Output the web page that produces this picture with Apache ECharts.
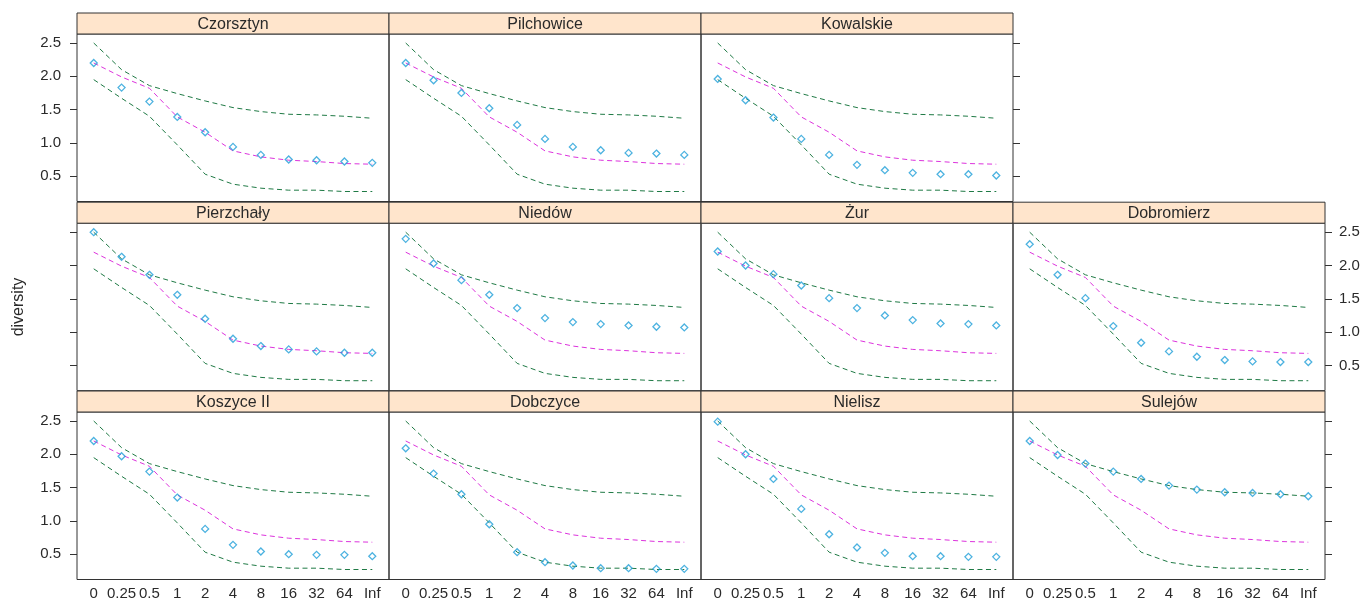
<!DOCTYPE html>
<html>
<head>
<meta charset="utf-8">
<style>
html,body{margin:0;padding:0;background:#fff;}
#chart{width:1363px;height:603px;}
</style>
<script src="https://cdn.jsdelivr.net/npm/echarts@6/dist/echarts.min.js"></script>
</head>
<body>
<div id="chart"></div>
<script>
// ---- data ----
const categories = ['0','0.25','0.5','1','2','4','8','16','32','64','Inf'];
const yTicks = [0.5, 1.0, 1.5, 2.0, 2.5];
const upperEnvelope = [2.50, 2.10, 1.86, 1.74, 1.63, 1.53, 1.47, 1.43, 1.42, 1.40, 1.37];
const meanLine      = [2.20, 1.99, 1.82, 1.39, 1.16, 0.88, 0.79, 0.74, 0.72, 0.69, 0.68];
const lowerEnvelope = [1.95, 1.67, 1.40, 0.97, 0.53, 0.38, 0.32, 0.29, 0.29, 0.27, 0.27];

const Czorsztyn   = [2.20, 1.83, 1.62, 1.39, 1.16, 0.94, 0.82, 0.75, 0.74, 0.72, 0.70];
const Pilchowice  = [2.20, 1.94, 1.75, 1.52, 1.27, 1.06, 0.94, 0.89, 0.85, 0.84, 0.82];
const Kowalskie   = [1.96, 1.64, 1.38, 1.06, 0.82, 0.67, 0.59, 0.55, 0.53, 0.53, 0.51];
const Pierzchaly  = [2.50, 2.13, 1.86, 1.56, 1.20, 0.90, 0.79, 0.74, 0.71, 0.69, 0.69];
const Niedow      = [2.40, 2.03, 1.78, 1.56, 1.36, 1.21, 1.15, 1.12, 1.10, 1.08, 1.07];
const Zur         = [2.21, 2.00, 1.87, 1.70, 1.51, 1.36, 1.25, 1.18, 1.13, 1.12, 1.10];
const Dobromierz  = [2.32, 1.86, 1.51, 1.09, 0.84, 0.71, 0.63, 0.58, 0.56, 0.55, 0.55];
const KoszyceII   = [2.20, 1.97, 1.74, 1.35, 0.88, 0.64, 0.54, 0.50, 0.49, 0.49, 0.47];
const Dobczyce    = [2.09, 1.71, 1.40, 0.95, 0.53, 0.38, 0.33, 0.29, 0.29, 0.28, 0.28];
const Nielisz     = [2.49, 2.00, 1.63, 1.18, 0.80, 0.60, 0.52, 0.47, 0.47, 0.46, 0.46];
const Sulejow     = [2.20, 1.99, 1.86, 1.74, 1.63, 1.53, 1.47, 1.43, 1.42, 1.40, 1.37];

// panel: name, values, row, col
const panels = [
  ['Czorsztyn', Czorsztyn, 0, 0],
  ['Pilchowice', Pilchowice, 0, 1],
  ['Kowalskie', Kowalskie, 0, 2],
  ['Pierzchały', Pierzchaly, 1, 0],
  ['Niedów', Niedow, 1, 1],
  ['Żur', Zur, 1, 2],
  ['Dobromierz', Dobromierz, 1, 3],
  ['Koszyce II', KoszyceII, 2, 0],
  ['Dobczyce', Dobczyce, 2, 1],
  ['Nielisz', Nielisz, 2, 2],
  ['Sulejów', Sulejow, 2, 3]
];

// ---- layout ----
const colLeft = [77, 389, 701, 1013];
const rowTop = [13, 202.2, 391];
const panelW = 312;
const stripH = 21;
const panelH = 167.5;
const FONT = "'Liberation Sans', Arial, sans-serif";
const TXT = '#2a2a2a';
const GREEN = '#1f7a45';
const MAGENTA = '#dd33dd';
const CYAN = '#1f9fd8';

const pairs = arr => arr.map((v, i) => [i, v]);

const grid = [], xAxis = [], yAxis = [], series = [], graphics = [];

panels.forEach(([name, vals, r, c], k) => {
  const left = colLeft[c], stripTop = rowTop[r], top = stripTop + stripH;
  grid.push({left: left, top: top, width: panelW, height: panelH,
             show: true, borderColor: '#333', borderWidth: 1, backgroundColor: 'transparent'});
  const bottomRow = (r === 2);
  xAxis.push({
    type: 'value', gridIndex: k, min: -0.6, max: 10.6, position: 'bottom',
    axisLine: {show: false, onZero: false}, splitLine: {show: false},
    axisTick: {show: false},
    axisLabel: {show: bottomRow, customValues: categories.map((_, i) => i),
                formatter: v => categories[Math.round(v)] || '',
                color: TXT, fontFamily: FONT, fontSize: 15, margin: 7}
  });
  // y axis placement (lattice alternating)
  let pos = null, labels = false;
  if (c === 0) { pos = 'left'; labels = (r !== 1); }
  if ((r === 0 && c === 2) || (r === 1 && c === 3) || (r === 2 && c === 3)) { pos = 'right'; labels = (r === 1); }
  yAxis.push({
    type: 'value', gridIndex: k, min: 0.12, max: 2.635,
    position: pos || 'left',
    axisLine: {show: false, onZero: false}, splitLine: {show: false},
    axisTick: {show: !!pos, inside: false, length: 7, customValues: yTicks,
               lineStyle: {color: '#333', width: 1}},
    axisLabel: {show: labels, customValues: yTicks, formatter: v => v.toFixed(1),
                color: TXT, fontFamily: FONT, fontSize: 15, margin: pos === 'right' ? 14 : 16}
  });
  const lineCommon = {type: 'line', xAxisIndex: k, yAxisIndex: k, symbol: 'none',
                      silent: true, animation: false, z: 2};
  series.push(Object.assign({}, lineCommon, {data: pairs(upperEnvelope),
              lineStyle: {color: GREEN, width: 1, type: [5, 3.5]}}));
  series.push(Object.assign({}, lineCommon, {data: pairs(meanLine),
              lineStyle: {color: MAGENTA, width: 1, type: [5, 3.5]}}));
  series.push(Object.assign({}, lineCommon, {data: pairs(lowerEnvelope),
              lineStyle: {color: GREEN, width: 1, type: [5, 3.5]}}));
  series.push({type: 'scatter', xAxisIndex: k, yAxisIndex: k, data: pairs(vals),
               symbol: 'diamond', symbolSize: [7, 7], animation: false, silent: true, z: 3,
               itemStyle: {color: 'rgba(0,0,0,0)', borderColor: CYAN, borderWidth: 1.3}});
  // strip
  graphics.push({type: 'rect', shape: {x: left, y: stripTop, width: panelW, height: stripH},
                 style: {fill: '#ffe5cc', stroke: '#333', lineWidth: 1}, z: 10, silent: true});
  graphics.push({type: 'text', x: left + panelW / 2, y: stripTop + stripH / 2 + 1,
                 style: {text: name, fill: TXT, font: '16px ' + FONT, align: 'center', verticalAlign: 'middle'},
                 z: 11, silent: true});
});

graphics.push({type: 'text', x: 19, y: 307, rotation: Math.PI / 2,
               style: {text: 'diversity', fill: TXT, font: '16px ' + FONT, align: 'center', verticalAlign: 'middle'},
               silent: true});

const chart = echarts.init(document.getElementById('chart'), null, {renderer: 'canvas'});
chart.setOption({
  backgroundColor: '#fff',
  animation: false,
  grid: grid, xAxis: xAxis, yAxis: yAxis, series: series,
  graphic: {elements: graphics}
});
</script>
</body>
</html>
